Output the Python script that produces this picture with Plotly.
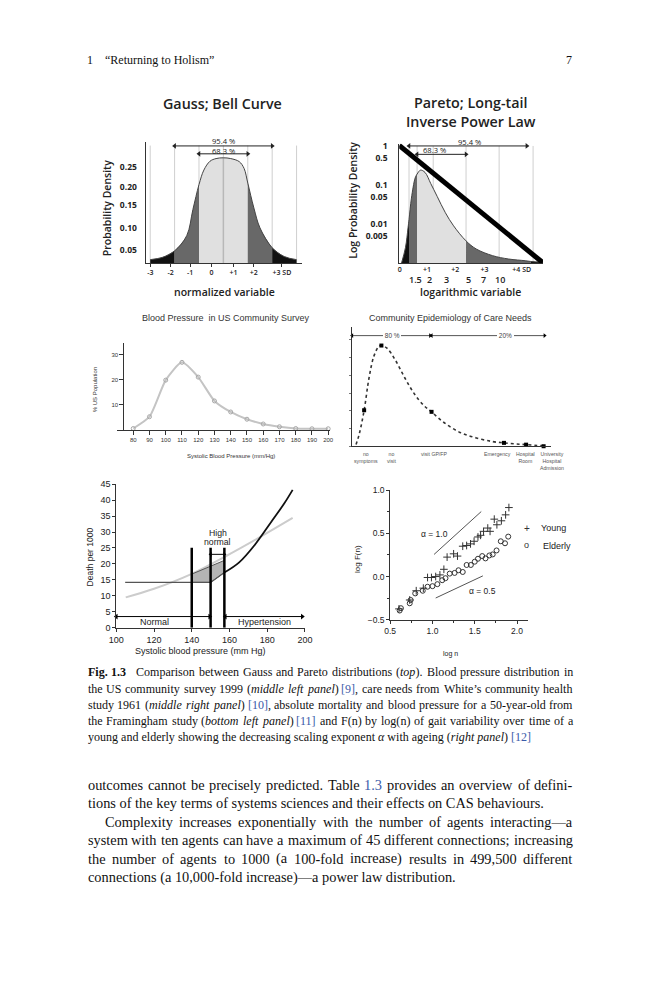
import glob
import re
import plotly.graph_objects as go

W, H = 659, 1000
SANS = "Liberation Sans, Arial, sans-serif"
HUM = "Open Sans, Noto Sans, sans-serif"
SERIF = "Liberation Serif, Times New Roman, serif"
INK = "#222222"
BLUE = "#3b5ba9"

# ---------------- data ----------------
# Panel 1: Gauss bell curve (x in SD units, y probability density)
gauss_x = [-3.0, -2.5, -2.0, -1.5, -1.25, -1.0, -0.8, -0.55, -0.3, 0.0, 0.3, 0.65, 0.85, 1.0, 1.25, 1.5, 2.0, 2.5, 3.0]
gauss_y = [0.009, 0.015, 0.032, 0.072, 0.14, 0.205, 0.243, 0.266, 0.273, 0.275, 0.273, 0.265, 0.247, 0.209, 0.144, 0.092, 0.04, 0.017, 0.009]
gauss_bands = [(-3, -2, "#111111"), (-2, -1, "#686868"), (-1, 1, "#e0e0e0"), (1, 2, "#686868"), (2, 3, "#111111")]
gauss_sd_lines = [-3, -2, -1, 0, 1, 2, 3]
gauss_ytick_vals = [0.035, 0.092, 0.1525, 0.2, 0.25]
gauss_ytick_text = ["0.05", "0.10", "0.15", "0.20", "0.25"]
gauss_xtick_vals = [-2.99, -2.16, -1.36, -0.49, 0.41, 1.24, 2.4]
gauss_xtick_text = ["-3", "-2", "-1", "0", "+1", "+2", "+3 SD"]

# Panel 2: Pareto long tail (x in SD units of log variable, y log density)
pareto_x = [0.08, 0.22, 0.31, 0.345, 0.43, 0.56, 0.63, 0.75, 0.91, 1.11, 1.34, 1.63, 1.92, 2.36, 2.72, 3.30, 3.87, 4.45, 4.65, 5.08]
pareto_y = [0.001, 0.0025, 0.008, 0.013, 0.046, 0.15, 0.19, 0.24, 0.21, 0.11, 0.051, 0.0195, 0.009, 0.0037, 0.0023, 0.00155, 0.00127, 0.00115, 0.0011, 0.00105]
pareto_bands = [(0.08, 0.345, "#111111"), (0.345, 0.63, "#686868"), (0.63, 2.36, "#e0e0e0"), (2.36, 4.65, "#686868"), (4.65, 5.08, "#111111")]
pareto_lines = [0.345, 0.63, 1.2, 2.36, 3.53, 4.73]
pareto_power_x = [0.0, 5.07]
pareto_power_y = [1.03, 0.00103]
pareto_ytick_vals = [1, 0.5, 0.1, 0.05, 0.01, 0.005]
pareto_ytick_text = ["1", "0.5", "0.1", "0.05", "0.01", "0.005"]
pareto_xtick_vals = [0.02, 0.98, 1.98, 3.01, 4.33]
pareto_xtick_text = ["0", "+1", "+2", "+3", "+4 SD"]
pareto_x2_vals = [0.56, 1.08, 1.67, 2.44, 2.96, 3.55]
pareto_x2_text = ["1.5", "2", "3", "5", "7", "10"]

# Panel 3: Blood pressure in US community survey
bp_sys = [80, 90, 100, 110, 120, 130, 140, 150, 160, 170, 180, 190, 200]
bp_pct = [0.6, 5.3, 19.9, 27.0, 21.1, 11.6, 7.2, 4.3, 2.4, 1.3, 0.6, 0.5, 0.5]

# Panel 4: Community epidemiology of care needs
care_curve_x = [1.96, 3.58, 6.03, 8.48, 10.9, 13.4, 14.7, 17.5, 21.6, 26.5, 31.4, 36.3, 39.9, 46.1, 54.2, 62.4, 70.6, 76.3, 82.0, 87.4, 96.2]
care_curve_y = [0.095, 0.69, 2.03, 3.85, 5.07, 5.63, 5.68, 5.53, 4.88, 3.85, 2.93, 2.27, 1.94, 1.34, 0.78, 0.47, 0.26, 0.19, 0.13, 0.09, 0.02]
care_pts_x = [6.03, 14.7, 39.9, 76.3, 87.4, 96.2]
care_pts_y = [2.03, 5.68, 1.94, 0.19, 0.09, 0.0]
care_labels = ["no<br>symptoms", "no<br>visit", "visit GP/FP", "Emergency", "Hospital<br>Room", "University<br>Hospital<br>Admission"]
care_label_px = [366.7, 392.7, 436.7, 501.5, 530, 557.3]
care_share_text = ["80 %", "20%"]
care_share_span = [(0.0, 39.2), (39.9, 96.7)]
care_share_text_x = [19.9, 77.1]

# Panel 5: Framingham mortality vs systolic blood pressure
fr_trend_x = [105, 120, 140, 158, 175, 193.5]
fr_trend_y = [9.5, 12.2, 16.9, 22.4, 28.0, 34.4]
fr_base_x = [104.7, 150, 157.3]
fr_base_y = [14.2, 14.2, 17.3]
fr_risk_x = [157.3, 165, 173.6, 182.3, 189.1, 193.5]
fr_risk_y = [17.3, 20.4, 26.1, 33.3, 39.0, 43.2]
fr_poly_x = [140, 150, 157.3, 157.3, 140, 140]
fr_poly_y = [14.2, 14.2, 17.3, 21.1, 16.8, 14.2]
fr_bar_x = [140, 150, 157.3]
fr_bar_top = 25.1
fr_normal_span = (100, 149.5)
fr_hyper_span = (157.8, 198.6)

# Panel 6: gait variability F(n) vs log n
young_x = [0.604, 0.731, 0.808, 0.892, 0.942, 0.988, 1.038, 1.088, 1.135, 1.173, 1.25, 1.296, 1.358, 1.404, 1.45, 1.492, 1.538, 1.569, 1.604, 1.654, 1.681, 1.731, 1.762, 1.815, 1.865, 1.904]
young_y = [-0.374, -0.271, -0.164, -0.134, -0.011, -0.011, 0.0, 0.019, 0.084, 0.225, 0.263, 0.237, 0.351, 0.359, 0.378, 0.408, 0.458, 0.477, 0.523, 0.561, 0.523, 0.664, 0.599, 0.645, 0.714, 0.798]
elder_x = [0.612, 0.627, 0.731, 0.742, 0.796, 0.885, 0.942, 1.0, 1.058, 1.115, 1.154, 1.204, 1.262, 1.308, 1.358, 1.404, 1.454, 1.5, 1.538, 1.588, 1.627, 1.673, 1.712, 1.758, 1.808, 1.858, 1.896]
elder_y = [-0.393, -0.366, -0.309, -0.271, -0.195, -0.164, -0.118, -0.111, -0.088, -0.042, -0.019, 0.034, 0.042, 0.073, 0.053, 0.134, 0.134, 0.172, 0.206, 0.237, 0.210, 0.244, 0.256, 0.302, 0.408, 0.385, 0.462]
alpha1_x = [1.019, 1.577]
alpha1_y = [0.256, 0.752]
alpha05_x = [1.038, 1.596]
alpha05_y = [-0.248, 0.008]

# ---------------- page text ----------------
def blue(s):
    return "<span style='color:%s'>%s</span>" % (BLUE, s)


caption = [
    "<b>Fig.</b> <b>1.3</b>\u00a0\u00a0 Comparison between Gauss and Pareto distributions (<i>top</i>). Blood pressure distribution in",
    "the US community survey 1999 (<i>middle left panel</i>) " + blue("[9]") + ", care needs from White’s community health",
    "study 1961 (<i>middle right panel</i>) " + blue("[10]") + ", absolute mortality and blood pressure for a 50-year-old from",
    "the Framingham study (<i>bottom left panel</i>) " + blue("[11]") + " and F(n) by log(n) of gait variability over time of a",
    "young and elderly showing the decreasing scaling exponent <i>α</i> with ageing (<i>right panel</i>) " + blue("[12]"),
]
caption_justify = [True, True, True, True, False]
body = [
    "outcomes cannot be precisely predicted. Table " + blue("1.3") + " provides an overview of defini-",
    "tions of the key terms of systems sciences and their effects on CAS behaviours.",
    "Complexity increases exponentially with the number of agents interacting—a",
    "system with ten agents can have a maximum of 45 different connections; increasing",
    "the number of agents to 1000 (a 100-fold increase) results in 499,500 different",
    "connections (a 10,000-fold increase)—a power law distribution.",
]
body_justify = [True, False, True, True, True, False]

# ---------------- helpers ----------------
def P(px):
    return px / W


def Q(py):
    return 1 - py / H


def T(text, x, y, size, xref="paper", yref="paper", xanchor="center", yanchor="middle",
      color=INK, family=SANS, weight=None, angle=0, bg=None):
    f = dict(size=size, color=color, family=family)
    if weight:
        f["weight"] = weight
    d = dict(text=text, x=x, y=y, xref=xref, yref=yref, xanchor=xanchor, yanchor=yanchor,
             showarrow=False, font=f, textangle=angle, borderpad=0, borderwidth=0)
    if bg:
        d["bgcolor"] = bg
    return d


def darrow(x0, x1, y, ax, ay, color=INK, head=None, size=5, width=1):
    return go.Scatter(x=[x0, x1], y=[y, y], mode="lines+markers", xaxis=ax, yaxis=ay,
                      line=dict(color=color, width=width),
                      marker=dict(symbol=["triangle-left", "triangle-right"], size=size,
                                  color=head or color, line=dict(width=0)),
                      cliponaxis=False, hoverinfo="skip")


def vlines(xs, y0, y1, ax, ay, color, width):
    X, Y = [], []
    for v in xs:
        X += [v, v, None]
        Y += [y0, y1, None]
    return go.Scatter(x=X, y=Y, mode="lines", xaxis=ax, yaxis=ay,
                      line=dict(color=color, width=width), hoverinfo="skip")


# ---- text measurement for justified paragraphs (falls back to left-aligned) ----
_fonts = {}
try:
    from PIL import ImageFont

    def _find(name):
        r = glob.glob("/usr/share/fonts/**/" + name, recursive=True)
        return r[0] if r else None

    _files = {(False, False): _find("LiberationSerif-Regular.ttf"),
              (True, False): _find("LiberationSerif-Bold.ttf"),
              (False, True): _find("LiberationSerif-Italic.ttf"),
              (True, True): _find("LiberationSerif-BoldItalic.ttf")}
    HAVE_METRICS = all(_files.values())
    if HAVE_METRICS:
        for k, v in _files.items():
            _fonts[k] = ImageFont.truetype(v, 100)
        _fonts[(False, False)].getlength("a")
except Exception:
    HAVE_METRICS = False

WIDTH_FUDGE = 1.03  # browser renders small serif text slightly wider than the raw advances


def measure(html, size):
    b = i = False
    w = 0.0
    for part in re.split(r"(<[^>]+>)", html):
        if not part:
            continue
        if part.startswith("<"):
            tag = part.lower()
            if tag == "<b>":
                b = True
            elif tag == "</b>":
                b = False
            elif tag == "<i>":
                i = True
            elif tag == "</i>":
                i = False
            continue
        w += _fonts[(b, i)].getlength(part)
    return w * size / 100.0 * WIDTH_FUDGE


def split_words(line):
    toks = re.split(r" (?![^<]*>)", line)
    out, stack = [], []
    for t in toks:
        prefix = "".join(stack)
        for tag in re.findall(r"<[^>]+>", t):
            if tag.startswith("</"):
                if stack:
                    stack.pop()
            else:
                stack.append(tag)
        suffix = "".join("</%s>" % re.match(r"<(\w+)", s).group(1) for s in reversed(stack))
        out.append(prefix + t + suffix)
    return out


def fit_size(lines, justs, lefts, right, space_em, default):
    if not HAVE_METRICS:
        return default
    sizes = []
    for line, j, left in zip(lines, justs, lefts):
        if j:
            words = split_words(line)
            w1 = sum(measure(w, 1.0) for w in words)
            sizes.append((right - left) / (w1 + space_em * (len(words) - 1)))
    return min(sizes)


def natural_size(line, width, default):
    if not HAVE_METRICS:
        return default
    return width / measure(line, 1.0)


def text_line(html, left, right, y, size, justify, out):
    if HAVE_METRICS and justify:
        words = split_words(html)
        ws = [measure(w, size) for w in words]
        gap = (right - left - sum(ws)) / max(len(words) - 1, 1)
        if gap > 1.0:
            x = left
            for w, wd in zip(words, ws):
                out.append(T(w, P(x), Q(y), size, xanchor="left", family=SERIF, color="#111"))
                x += wd + gap
            return
    out.append(T(html, P(left), Q(y), size, xanchor="left", family=SERIF, color="#111"))


traces = []
ann = []

# ---------------- panel 1: Gauss ----------------
traces.append(vlines(gauss_sd_lines, 0, 0.307, "x", "y", "#cfcfcf", 1))
for a, b, c in gauss_bands:
    xs = [x for x in gauss_x if a <= x <= b]
    ys = [y for x, y in zip(gauss_x, gauss_y) if a <= x <= b]
    traces.append(go.Scatter(x=xs, y=ys, mode="lines", fill="tozeroy", fillcolor=c,
                             line=dict(width=0, shape="spline", color=c), xaxis="x", yaxis="y", hoverinfo="skip"))
traces.append(go.Scatter(x=[0, 0], y=[0, max(gauss_y)], mode="lines", line=dict(color="#b8b8b8", width=1.5),
                         xaxis="x", yaxis="y", hoverinfo="skip"))
traces.append(go.Scatter(x=gauss_x, y=gauss_y, mode="lines", line=dict(color="#444", width=1, shape="spline"),
                         xaxis="x", yaxis="y", hoverinfo="skip"))
traces.append(darrow(-2, 2, 0.306, "x", "y", size=5))
traces.append(darrow(-1, 1, 0.2854, "x", "y", size=5))
ann.append(T("95.4 %", P(220.7), Q(137.8), 7.6, family=HUM))
ann.append(T("68.3 %", P(220.7), Q(147.2), 7.6, family=HUM))
ann.append(T("Gauss; Bell Curve", P(220), Q(99), 14.3, family=HUM, weight=600))
ann.append(T("Probability Density", P(101.7), Q(205), 10.5, family=HUM, weight=600, angle=-90))
ann.append(T("normalized variable", P(221.7), Q(289.5), 10.5, family=HUM, weight=600))

# ---------------- panel 2: Pareto ----------------
traces.append(vlines(pareto_lines, 0.001, 1.0, "x2", "y2", "#cfcfcf", 1))
for a, b, c in pareto_bands:
    xs = [x for x in pareto_x if a <= x <= b]
    ys = [y for x, y in zip(pareto_x, pareto_y) if a <= x <= b]
    traces.append(go.Scatter(x=[xs[0], xs[-1]], y=[0.001, 0.001], mode="lines", line=dict(width=0),
                             xaxis="x2", yaxis="y2", hoverinfo="skip"))
    traces.append(go.Scatter(x=xs, y=ys, mode="lines", fill="tonexty", fillcolor=c,
                             line=dict(width=0, shape="spline", color=c), xaxis="x2", yaxis="y2", hoverinfo="skip"))
traces.append(go.Scatter(x=pareto_x, y=pareto_y, mode="lines", line=dict(color="#444", width=1, shape="spline"),
                         xaxis="x2", yaxis="y2", hoverinfo="skip"))
traces.append(darrow(0.345, 4.51, 1.0, "x2", "y2", size=5))
traces.append(darrow(0.63, 2.36, 0.61, "x2", "y2", size=5))
traces.append(go.Scatter(x=pareto_power_x, y=pareto_power_y, mode="lines", line=dict(color="#000", width=5),
                         xaxis="x2", yaxis="y2", cliponaxis=False, hoverinfo="skip"))
ann.append(T("95.4 %", 2.49, Q(138), 7.6, "x2", "paper", family=HUM))
ann.append(T("68.3 %", 1.23, Q(146.5), 7.6, "x2", "paper", family=HUM))
for v, t in zip(pareto_x2_vals, pareto_x2_text):
    ann.append(T(t, v, Q(277.7), 9, "x2", "paper", family=HUM, weight=600))
ann.append(T("Pareto; Long-tail<br>Inverse Power Law", P(475), Q(108.5), 14.3, family=HUM, weight=600))
ann.append(T("Log Probability Density", P(353.3), Q(197), 10.5, family=HUM, weight=600, angle=-90))
ann.append(T("logarithmic variable", P(474), Q(289.5), 10.5, family=HUM, weight=600))

# ---------------- panel 3: BP survey ----------------
traces.append(go.Scatter(x=bp_sys, y=bp_pct, mode="lines+markers", xaxis="x3", yaxis="y3",
                         line=dict(color="#c4c4c4", width=2, shape="spline", smoothing=0.6),
                         marker=dict(symbol="circle-open", size=4, color="#a8a8a8", line=dict(width=1)),
                         cliponaxis=False, hoverinfo="skip"))
ann.append(T("Blood Pressure  in US Community Survey", P(223.3), Q(316.5), 9, color="#333"))
ann.append(T("% US Population", P(90), Q(388.3), 6, angle=-90, color="#333"))
ann.append(T("Systolic Blood Pressure (mm/Hg)", P(228.3), Q(456), 6, color="#333"))

# ---------------- panel 4: care needs ----------------
traces.append(go.Scatter(x=care_curve_x, y=care_curve_y, mode="lines", xaxis="x4", yaxis="y4",
                         line=dict(color="#333", width=1.6, dash="dot", shape="spline"), hoverinfo="skip"))
traces.append(go.Scatter(x=care_pts_x, y=care_pts_y, mode="markers", xaxis="x4", yaxis="y4",
                         marker=dict(symbol="square", size=4, color="#000"), cliponaxis=False, hoverinfo="skip"))
for (a, b) in care_share_span:
    traces.append(darrow(a, b, 6.24, "x4", "y4", color="#555", head="#000", size=4))
for t, xv in zip(care_share_text, care_share_text_x):
    ann.append(T("\u00a0" + t + "\u00a0", xv, 6.24, 6.5, "x4", "y4", color="#444", bg="white"))
for t, xp in zip(care_labels, care_label_px):
    ann.append(T(t, P(xp), Q(450.8), 5.2, yanchor="top", color="#555"))
ann.append(T("Community Epidemiology of Care Needs", P(453.3), Q(316.5), 9, color="#333"))

# ---------------- panel 5: Framingham ----------------
traces.append(go.Scatter(x=fr_trend_x, y=fr_trend_y, mode="lines", xaxis="x5", yaxis="y5",
                         line=dict(color="#cccccc", width=2, shape="spline"), hoverinfo="skip"))
traces.append(go.Scatter(x=fr_poly_x, y=fr_poly_y, mode="lines", fill="toself", fillcolor="#b4b4b4",
                         line=dict(color="#555", width=1), xaxis="x5", yaxis="y5", hoverinfo="skip"))
traces.append(go.Scatter(x=fr_base_x, y=fr_base_y, mode="lines", xaxis="x5", yaxis="y5",
                         line=dict(color="#555", width=1.2), hoverinfo="skip"))
traces.append(go.Scatter(x=fr_risk_x, y=fr_risk_y, mode="lines", xaxis="x5", yaxis="y5",
                         line=dict(color="#111", width=1.8, shape="spline"), hoverinfo="skip"))
traces.append(vlines(fr_bar_x, 0, fr_bar_top, "x5", "y5", "#000", 2.5))
traces.append(darrow(fr_bar_x[1], fr_bar_x[2], 23, "x5", "y5", color="#000", size=4))
traces.append(darrow(fr_normal_span[0], fr_normal_span[1], 3.5, "x5", "y5", color="#000", size=5))
traces.append(darrow(fr_hyper_span[0], fr_hyper_span[1], 3.5, "x5", "y5", color="#000", size=5))
ann.append(T("High", 153.8, 29.6, 8.7, "x5", "y5"))
ann.append(T("normal", 153.8, 27.0, 8.7, "x5", "y5"))
ann.append(T("Normal", 120.2, 1.77, 9, "x5", "y5"))
ann.append(T("Hypertension", 178.8, 1.77, 9, "x5", "y5"))
ann.append(T("Death per 1000", P(84), Q(557), 8.5, angle=-90))
ann.append(T("Systolic blood pressure (mm Hg)", P(197.5), Q(653), 9))

# ---------------- panel 6: gait ----------------
traces.append(go.Scatter(x=alpha1_x, y=alpha1_y, mode="lines", line=dict(color="#555", width=1),
                         xaxis="x6", yaxis="y6", hoverinfo="skip"))
traces.append(go.Scatter(x=alpha05_x, y=alpha05_y, mode="lines", line=dict(color="#555", width=1),
                         xaxis="x6", yaxis="y6", hoverinfo="skip"))
traces.append(go.Scatter(x=young_x, y=young_y, mode="markers", name="Young", xaxis="x6", yaxis="y6",
                         marker=dict(symbol="cross-thin-open", size=5.5, color="#333", line=dict(width=1, color="#333")),
                         hoverinfo="skip"))
traces.append(go.Scatter(x=elder_x, y=elder_y, mode="markers", name="Elderly", xaxis="x6", yaxis="y6",
                         marker=dict(symbol="circle-open", size=5, color="#333", line=dict(width=1, color="#333")),
                         hoverinfo="skip"))
ann.append(T("α = 1.0", 1.027, 0.492, 8.5, "x6", "y6"))
ann.append(T("α = 0.5", 1.596, -0.172, 8.5, "x6", "y6"))
ann.append(T("+", P(531.7), Q(528.3), 10, color="#333"))
ann.append(T("Young", P(546.5), Q(528.3), 9, xanchor="left"))
ann.append(T("o", P(531.7), Q(545.7), 9, color="#333"))
ann.append(T("Elderly", P(548), Q(546), 9, xanchor="left"))
ann.append(T("log F(n)", P(358.3), Q(560), 8, angle=-90))
ann.append(T("log n", P(453), Q(655.5), 7))

# ---------------- page text ----------------
ann.append(T("1", P(81), Q(56), 12, xanchor="left", family=SERIF, color="#111"))
ann.append(T("“Returning to Holism”", P(99.5), Q(56), 12, xanchor="left", family=SERIF, color="#111"))
ann.append(T("7", P(578), Q(56), 12, xanchor="right", family=SERIF, color="#111"))

LEFT, RIGHT = 81.5, 579
body_x = [LEFT, LEFT, 99.3, LEFT, LEFT, LEFT]
cap_size = min(12.2, fit_size(caption, caption_justify, [LEFT] * 5, RIGHT, 0.30, 11.6),
               natural_size(caption[4], 470.0, 11.6))
body_size = min(natural_size(body[1], 470.0, 13.6),
                fit_size(body, body_justify, body_x, RIGHT, 0.17, 13.6))

cap_y = [674, 690.5, 707, 723, 739.5]
for t, yy, j in zip(caption, cap_y, caption_justify):
    text_line(t, LEFT, RIGHT, yy, cap_size, j, ann)

body_y = [787.5, 806.2, 824.9, 843.6, 862.3, 881]
for t, yy, xx, j in zip(body, body_y, body_x, body_justify):
    text_line(t, xx, RIGHT, yy, body_size, j, ann)

# ---------------- layout ----------------
base = dict(showgrid=False, zeroline=False, linecolor="#333", linewidth=1, tickcolor="#333")

layout = dict(
    width=W, height=H, margin=dict(l=0, r=0, t=0, b=0, pad=0), autosize=False,
    paper_bgcolor="white", plot_bgcolor="rgba(0,0,0,0)", showlegend=False,
    annotations=ann,
    xaxis=dict(base, domain=[P(141), P(301.5)], range=[-3.19, 3.23], anchor="y", showline=True,
               tickmode="array", tickvals=gauss_xtick_vals, ticktext=gauss_xtick_text,
               ticks="outside", ticklen=3, tickfont=dict(size=7, family=HUM, color=INK, weight=600)),
    yaxis=dict(base, domain=[Q(260.7), Q(138.3)], range=[0, 0.3165], anchor="x", showline=True,
               tickmode="array", tickvals=gauss_ytick_vals, ticktext=gauss_ytick_text, ticks="",
               ticklabelstandoff=6, tickfont=dict(size=8.5, family=HUM, color=INK, weight=700)),
    xaxis2=dict(base, domain=[P(401), P(548.3)], range=[0, 5.08], anchor="y2", showline=True,
                tickmode="array", tickvals=pareto_xtick_vals, ticktext=pareto_xtick_text,
                ticks="", tickfont=dict(size=7, family=HUM, color=INK, weight=600)),
    yaxis2=dict(base, domain=[Q(260.7), Q(140)], type="log", range=[-3, 0.06], anchor="x2", showline=True,
                tickmode="array", tickvals=pareto_ytick_vals, ticktext=pareto_ytick_text, ticks="",
                ticklabelstandoff=9, tickfont=dict(size=8.5, family=HUM, color=INK, weight=700)),
    xaxis3=dict(base, domain=[P(111.7), P(330)], range=[70, 201.1], anchor="y3", showline=True,
                tickmode="array", tickvals=bp_sys, ticks="outside", ticklen=4,
                tickfont=dict(size=6, family=SANS, color="#333")),
    yaxis3=dict(base, domain=[Q(429.3), Q(341.7)], range=[0, 34.6], anchor="free", position=P(118.3),
                showline=True, tickmode="array", tickvals=[10, 20, 30], ticks="outside", ticklen=4,
                tickfont=dict(size=6, family=SANS, color="#333")),
    xaxis4=dict(base, domain=[P(352.7), P(556.7)], range=[0, 100], anchor="y4", showline=True,
                showticklabels=False, ticks=""),
    yaxis4=dict(base, domain=[Q(445.7), Q(325)], range=[0, 6.74], anchor="x4", showline=True,
                showticklabels=False, ticks="outside", ticklen=2, dtick=1, tickcolor="#777"),
    xaxis5=dict(base, domain=[P(111), P(304.3)], range=[100, 200], anchor="y5", showline=True,
                tickmode="array", tickvals=[100, 120, 140, 160, 180, 200], ticks="outside", ticklen=3,
                tickfont=dict(size=9, family=SANS, color=INK)),
    yaxis5=dict(base, domain=[Q(629), Q(484)], range=[0, 45], anchor="x5", showline=True,
                dtick=5, ticks="outside", ticklen=3, tickfont=dict(size=9, family=SANS, color=INK)),
    xaxis6=dict(base, domain=[P(391.7), P(533.3)], range=[0.5, 2.134], anchor="y6", showline=True,
                tick0=0.5, dtick=0.5, tickformat=".1f", ticks="outside", ticklen=3,
                minor=dict(dtick=0.25, ticks="outside", ticklen=2, tickcolor="#333"),
                tickfont=dict(size=8.5, family=SANS, color=INK)),
    yaxis6=dict(base, domain=[Q(621), Q(490)], range=[-0.5, 1.0], anchor="x6", showline=True,
                tick0=-0.5, dtick=0.5, tickformat=".1f", ticks="outside", ticklen=3,
                minor=dict(dtick=0.25, ticks="outside", ticklen=2, tickcolor="#333"),
                tickfont=dict(size=8.5, family=SANS, color=INK)),
)

fig = go.Figure(data=traces, layout=layout)
page_fix = ("document.documentElement.style.margin='0';document.documentElement.style.overflow='hidden';"
            "document.body.style.margin='0';document.body.style.padding='0';document.body.style.overflow='hidden';")
fig.write_html("out.html", config={"responsive": False, "displayModeBar": False}, post_script=page_fix)
